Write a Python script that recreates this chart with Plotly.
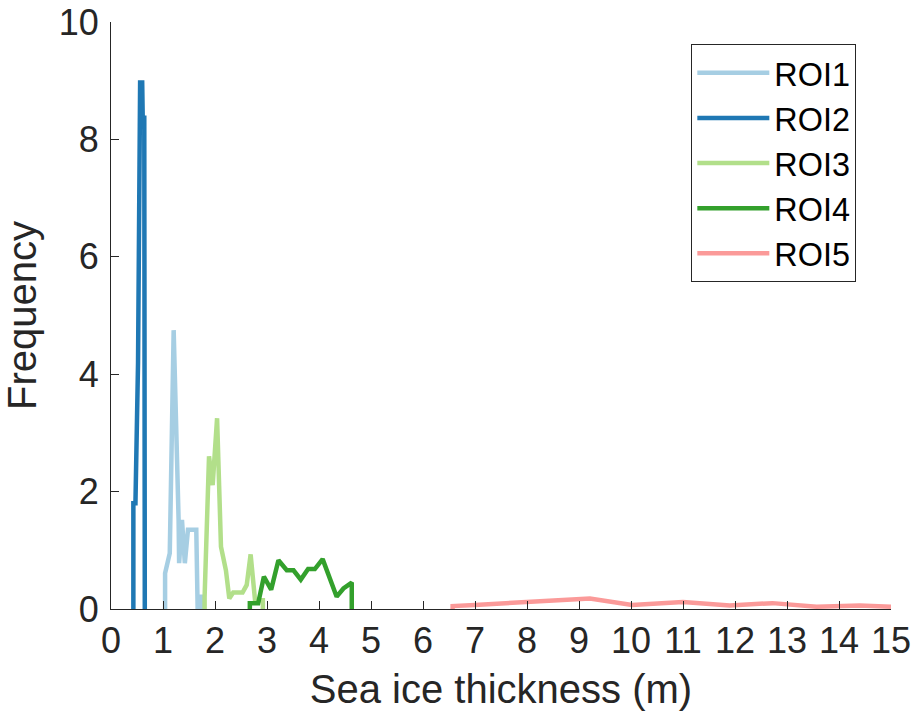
import plotly.graph_objects as go

# ---- data ----
roi1_x = [1.04, 1.04, 1.13, 1.205, 1.30, 1.31, 1.365, 1.42, 1.48, 1.64, 1.67, 1.72, 1.75, 1.76]
roi1_y = [0.0, 0.61, 0.95, 4.75, 1.52, 0.78, 1.52, 0.78, 1.35, 1.35, -0.2, 0.21, 0.21, 0.0]

roi2_x = [0.43, 0.43, 0.47, 0.52, 0.56, 0.60, 0.61, 0.64, 0.65]
roi2_y = [0.0, 1.8, 1.8, 4.2, 8.97, 8.97, 8.37, 8.37, 0.0]

roi3_x = [1.80, 1.80, 1.885, 1.955, 2.04, 2.115, 2.21, 2.275, 2.35, 2.53, 2.61, 2.685, 2.77, 2.92, 2.92]
roi3_y = [0.0, 0.2, 2.6, 2.11, 3.25, 1.06, 0.66, 0.18, 0.28, 0.28, 0.41, 0.93, 0.15, 0.15, 0.0]

roi4_x = [2.67, 2.67, 2.83, 2.94, 3.08, 3.22, 3.38, 3.51, 3.65, 3.79, 3.92, 4.07, 4.34, 4.47, 4.63, 4.63]
roi4_y = [0.0, 0.1, 0.1, 0.55, 0.33, 0.83, 0.66, 0.66, 0.5, 0.68, 0.68, 0.85, 0.21, 0.35, 0.45, 0.0]

roi5_x = [6.57, 6.57, 7.0, 8.0, 9.21, 10.02, 11.0, 11.9, 12.72, 13.57, 14.4, 15.0]
roi5_y = [0.0, 0.05, 0.07, 0.12, 0.18, 0.07, 0.12, 0.06, 0.10, 0.04, 0.06, 0.04]

names = ["ROI1", "ROI2", "ROI3", "ROI4", "ROI5"]
colors = ["#a6cee3", "#1f78b4", "#b2df8a", "#33a02c", "#fb9a99"]
xs = [roi1_x, roi2_x, roi3_x, roi4_x, roi5_x]
ys = [roi1_y, roi2_y, roi3_y, roi4_y, roi5_y]

x_ticks = list(range(0, 16))
y_ticks = [0, 2, 4, 6, 8, 10]

FONT = "Liberation Sans, Arial, Helvetica, sans-serif"
AX = "#262626"

fig = go.Figure()
for n, c, x, y in zip(names, colors, xs, ys):
    fig.add_trace(go.Scatter(x=x, y=y, mode="lines", name=n,
                             line=dict(color=c, width=4.5)))

fig.update_layout(
    width=915, height=721,
    margin=dict(l=111, r=24, t=22, b=112, autoexpand=False),
    paper_bgcolor="white", plot_bgcolor="white",
    font=dict(family=FONT, size=36, color=AX),
    showlegend=True,
    legend=dict(
        x=0.744, y=0.962, xanchor="left", yanchor="top",
        bgcolor="white", bordercolor=AX, borderwidth=1,
        font=dict(family=FONT, size=32.4, color="black"),
        itemwidth=72, tracegroupgap=0,
    ),
    xaxis=dict(
        range=[0, 15], tickvals=x_ticks, ticktext=[str(v) for v in x_ticks],
        showline=True, linecolor=AX, linewidth=1, mirror=False,
        ticks="inside", ticklen=8, tickwidth=1, tickcolor=AX,
        showgrid=False, zeroline=False, automargin=False,
        tickfont=dict(family=FONT, size=36, color=AX),
        title=dict(text="Sea ice thickness (m)", font=dict(family=FONT, size=40, color=AX), standoff=14),
        ticklabelstandoff=0,
    ),
    yaxis=dict(
        range=[0, 10], tickvals=y_ticks, ticktext=[str(v) for v in y_ticks],
        showline=True, linecolor=AX, linewidth=1, mirror=False,
        ticks="inside", ticklen=8, tickwidth=1, tickcolor=AX,
        showgrid=False, zeroline=False, automargin=False,
        tickfont=dict(family=FONT, size=36, color=AX),
        title=dict(text="Frequency", font=dict(family=FONT, size=40, color=AX), standoff=12),
        ticklabelstandoff=4,
    ),
)

fig.write_html("out.html")
